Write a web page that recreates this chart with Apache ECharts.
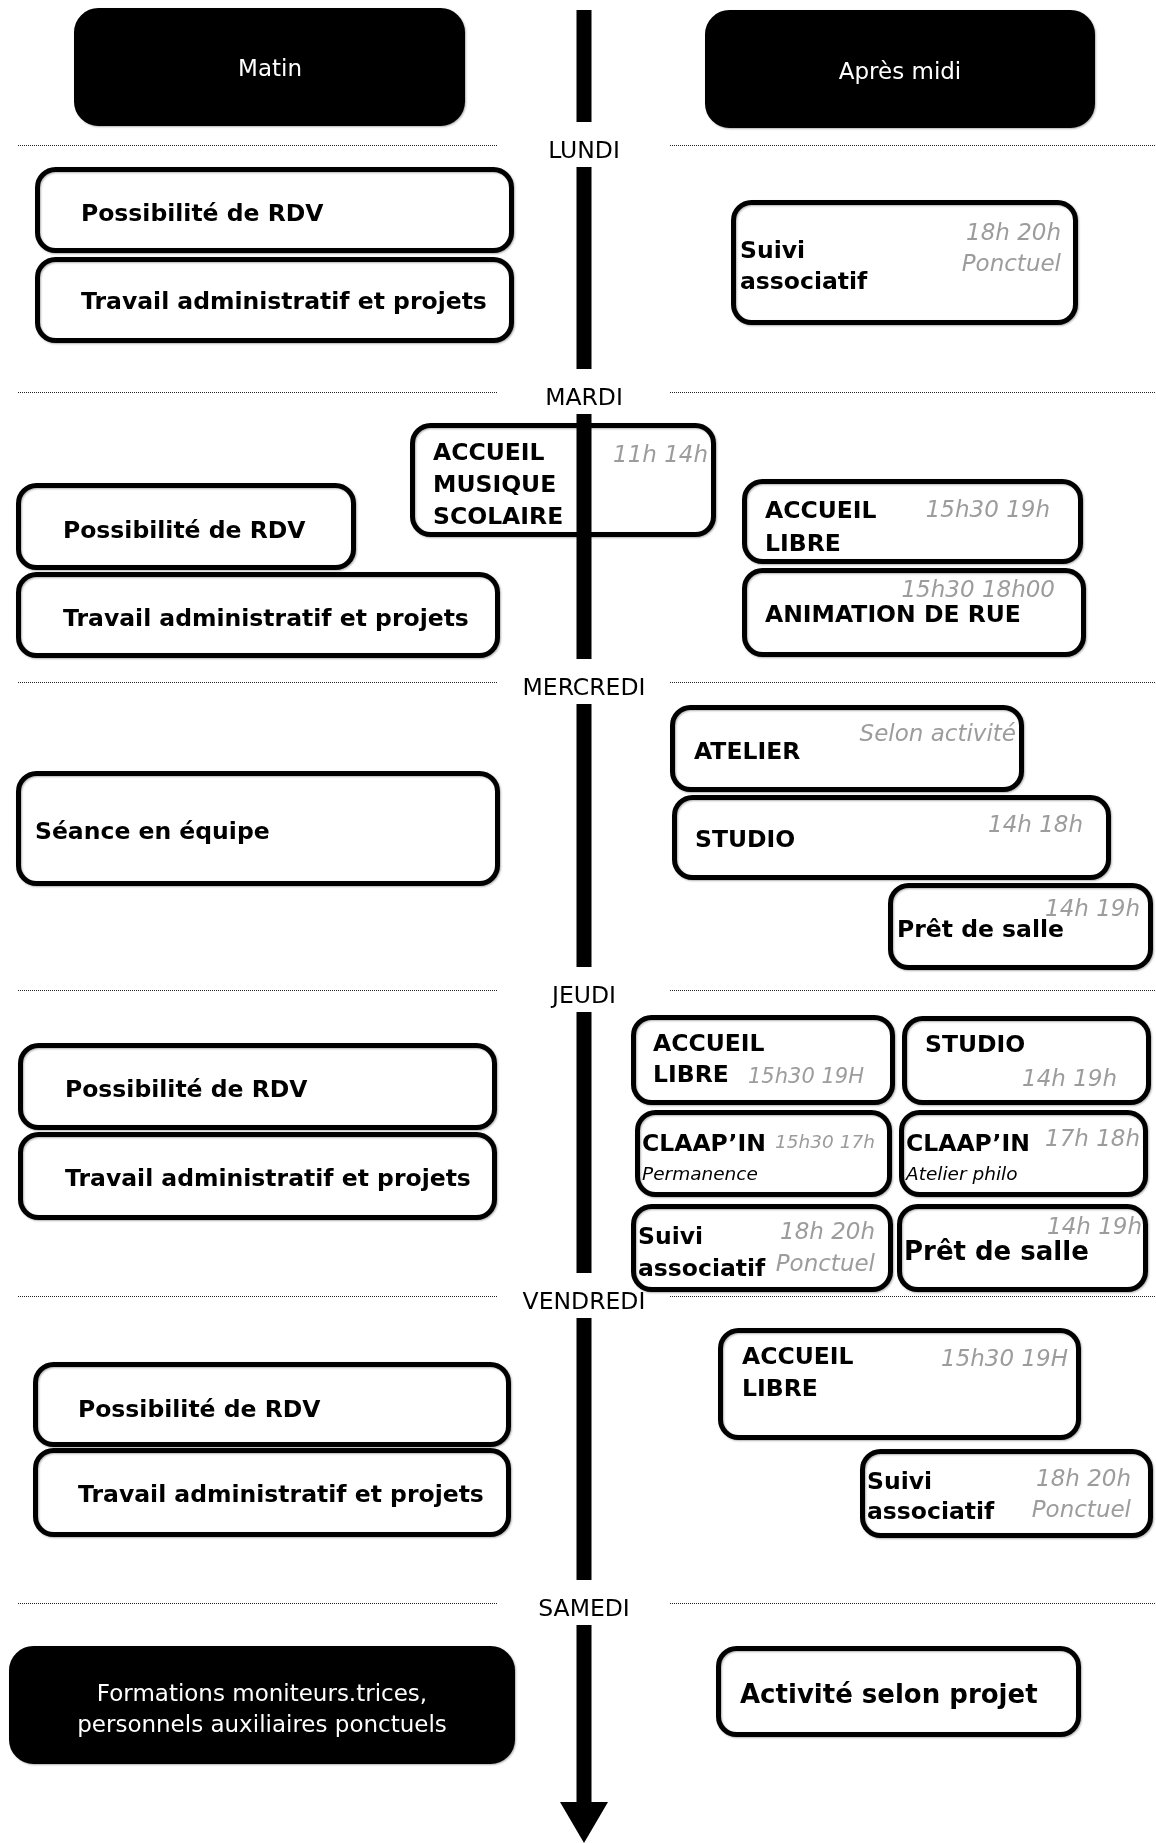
<!DOCTYPE html>
<html><head><meta charset="utf-8">
<script src="https://cdn.jsdelivr.net/npm/echarts@6/dist/echarts.min.js"></script>
<style>html,body{margin:0;padding:0;background:#fff}#c{width:1156px;height:1843px}</style>
</head><body><div id="c"></div>
<script>
// ---- data ----
const days = ['LUNDI','MARDI','MERCREDI','JEUDI','VENDREDI','SAMEDI'];
const dayY = [150,397,687,995,1301,1608];
const spineX = 584, spineTop = 10, arrowStart = 1802, arrowTip = 1843;

// boxes: [x0, y0, x1, y1, filled]
const headerBoxes = [[74,8,465,126,1],[705,10,1095,128,1]];
const mondayBoxes = [[35,167,514,253,0],[35,257,514,343,0],[731,200,1078,325,0]];
const tuesdayBoxes = [[16,483,356,570,0],[16,572,500,658,0],[742,479,1083,564,0],[742,568,1086,657,0],[410,423,716,537,0]];
const wednesdayBoxes = [[16,771,500,886,0],[670,705,1024,792,0],[672,795,1111,880,0],[888,883,1153,970,0]];
const thursdayBoxes = [[18,1043,497,1130,0],[18,1132,497,1220,0],[631,1015,895,1105,0],[902,1016,1151,1105,0],
  [635,1110,892,1197,0],[899,1110,1148,1197,0],[631,1204,893,1292,0],[897,1204,1148,1292,0]];
const fridayBoxes = [[33,1362,511,1447,0],[33,1448,511,1537,0],[718,1328,1081,1440,0],[860,1449,1153,1538,0]];
const saturdayBoxes = [[9,1646,515,1764,1],[716,1646,1081,1737,0]];

// labels: [x, y, text, kind, align]
const headerLabels = [[270,67,'Matin','h','center'],[900,70,'Après midi','h','center']];
const mondayLabels = [
  [81,212,'Possibilité de RDV','b','left'],[81,300,'Travail administratif et projets','b','left'],
  [740,249,'Suivi','b','left'],[740,280,'associatif','b','left'],
  [1061,231,'18h 20h','t','right'],[1061,262,'Ponctuel','t','right']];
const tuesdayLabels = [
  [433,451,'ACCUEIL','b','left'],[433,483,'MUSIQUE','b','left'],[433,515,'SCOLAIRE','b','left'],[708,453,'11h 14h','t','right'],
  [63,529,'Possibilité de RDV','b','left'],[63,617,'Travail administratif et projets','b','left'],
  [765,509,'ACCUEIL','b','left'],[765,542,'LIBRE','b','left'],[1050,508,'15h30 19h','t','right'],
  [765,613,'ANIMATION DE RUE','b','left'],[1055,588,'15h30 18h00','t','right']];
const wednesdayLabels = [
  [35,830,'Séance en équipe','b','left'],
  [694,750,'ATELIER','b','left'],[1016,732,'Selon activité','t','right'],
  [695,838,'STUDIO','b','left'],[1083,823,'14h 18h','t','right'],
  [897,928,'Prêt de salle','b','left'],[1140,907,'14h 19h','t','right']];
const thursdayLabels = [
  [65,1088,'Possibilité de RDV','b','left'],[65,1177,'Travail administratif et projets','b','left'],
  [653,1042,'ACCUEIL','b','left'],[653,1073,'LIBRE','b','left'],[748,1075,'15h30 19H','tm','left'],
  [925,1043,'STUDIO','b','left'],[1117,1077,'14h 19h','t','right'],
  [642,1142,'CLAAP’IN','b','left'],[642,1172,'Permanence','n','left'],[875,1140,'15h30 17h','ts','right'],
  [906,1142,'CLAAP’IN','b','left'],[906,1172,'Atelier philo','n','left'],[1140,1137,'17h 18h','t','right'],
  [638,1235,'Suivi','b','left'],[638,1267,'associatif','b','left'],[875,1230,'18h 20h','t','right'],[875,1262,'Ponctuel','t','right'],
  [904,1250,'Prêt de salle','big','left'],[1142,1225,'14h 19h','t','right']];
const fridayLabels = [
  [78,1408,'Possibilité de RDV','b','left'],[78,1493,'Travail administratif et projets','b','left'],
  [742,1355,'ACCUEIL','b','left'],[742,1387,'LIBRE','b','left'],[1068,1357,'15h30 19H','t','right'],
  [867,1480,'Suivi','b','left'],[867,1510,'associatif','b','left'],[1131,1477,'18h 20h','t','right'],[1131,1508,'Ponctuel','t','right']];
const saturdayLabels = [
  [262,1692,'Formations moniteurs.trices,','h','center'],[262,1723,'personnels auxiliaires ponctuels','h','center'],
  [740,1693,'Activité selon projet','big','left']];

// ---- styles ----
const FF = '"DejaVu Sans", Verdana, sans-serif';
const kinds = {
  b:   {font: 'bold 23.5px ' + FF, fill: '#000'},
  big: {font: 'bold 26px ' + FF, fill: '#000'},
  t:   {font: 'italic 23px ' + FF, fill: '#9c9c9c'},
  tm:  {font: 'italic 21px ' + FF, fill: '#9c9c9c'},
  ts:  {font: 'italic 18.5px ' + FF, fill: '#9c9c9c'},
  n:   {font: 'italic 18.5px ' + FF, fill: '#000'},
  h:   {font: '23px ' + FF, fill: '#fff'},
  d:   {font: '23.5px ' + FF, fill: '#000'}
};
const TEXT_SHIFT = 3;   // canvas "middle" sits a bit above visual glyph centre
const LW = 5, RADIUS = 18, SPINE_W = 15;

const boxes = [].concat(headerBoxes, mondayBoxes, tuesdayBoxes, wednesdayBoxes, thursdayBoxes, fridayBoxes, saturdayBoxes);
const labels = [].concat(headerLabels, mondayLabels, tuesdayLabels, wednesdayLabels, thursdayLabels, fridayLabels, saturdayLabels);

// spine segments derived from day positions
const spine = [];
let prev = spineTop;
dayY.forEach(function (y) { spine.push([prev, y - 28]); prev = y + 17; });
spine.push([prev, arrowStart]);

const chart = echarts.init(document.getElementById('c'), null, {renderer: 'canvas'});
chart.setOption({
  animation: false,
  grid: {left: 0, right: 0, top: 0, bottom: 0},
  xAxis: {type: 'value', min: 0, max: 1156, show: false},
  yAxis: {type: 'value', min: 0, max: 1843, inverse: true, show: false},
  series: [
    { // day separators
      type: 'custom', z: 1, clip: false,
      data: dayY.map(function (y, i) { return [spineX, y, i]; }),
      renderItem: function (params, api) {
        const p = api.coord([api.value(0), api.value(1)]);
        const l0 = api.coord([18, 0])[0], l1 = api.coord([498, 0])[0];
        const r0 = api.coord([670, 0])[0], r1 = api.coord([1155, 0])[0];
        const ly = Math.round(p[1] - 5) + 0.5;
        const ds = {stroke: '#222', lineWidth: 1, lineDash: [1, 1]};
        return {type: 'group', children: [
          {type: 'line', shape: {x1: l0, y1: ly, x2: l1, y2: ly}, style: ds},
          {type: 'line', shape: {x1: r0, y1: ly, x2: r1, y2: ly}, style: ds},
          {type: 'text', style: {x: p[0], y: p[1] + TEXT_SHIFT - 1, text: days[api.value(2)], font: kinds.d.font, fill: '#000',
            align: 'center', verticalAlign: 'middle', textAlign: 'center', textVerticalAlign: 'middle'}}
        ]};
      }
    },
    { // boxes
      type: 'custom', z: 2, clip: false,
      data: boxes,
      renderItem: function (params, api) {
        const a = api.coord([api.value(0), api.value(1)]);
        const b = api.coord([api.value(2), api.value(3)]);
        const filled = api.value(4) === 1;
        return {type: 'rect',
          shape: {x: a[0] + LW / 2, y: a[1] + LW / 2, width: b[0] - a[0] - LW, height: b[1] - a[1] - LW, r: filled ? 22 : RADIUS},
          style: {fill: filled ? '#000' : '#fff', stroke: '#000', lineWidth: LW,
            shadowColor: 'rgba(0,0,0,0.3)', shadowBlur: 2, shadowOffsetX: 1, shadowOffsetY: 1}};
      }
    },
    { // spine
      type: 'custom', z: 3, clip: false,
      data: spine.map(function (s, i) { return [spineX, s[0], s[1], i]; }),
      renderItem: function (params, api) {
        const a = api.coord([api.value(0), api.value(1)]);
        const b = api.coord([api.value(0), api.value(2)]);
        const children = [{type: 'rect', shape: {x: a[0] - SPINE_W / 2, y: a[1], width: SPINE_W, height: b[1] - a[1]}, style: {fill: '#000'}}];
        if (api.value(3) === spine.length - 1) {
          const t = api.coord([spineX, arrowTip]);
          children.push({type: 'polygon', shape: {points: [[b[0] - 24, b[1]], [b[0] + 24, b[1]], [t[0], t[1]]]}, style: {fill: '#000'}});
        }
        return {type: 'group', children: children};
      }
    },
    { // labels
      type: 'custom', z: 4, clip: false,
      data: labels.map(function (l, i) { return [l[0], l[1], i]; }),
      renderItem: function (params, api) {
        const l = labels[api.value(2)];
        const p = api.coord([api.value(0), api.value(1)]);
        const k = kinds[l[3]];
        return {type: 'text', style: {x: p[0], y: p[1] + TEXT_SHIFT, text: l[2], font: k.font, fill: k.fill,
          align: l[4], verticalAlign: 'middle', textAlign: l[4], textVerticalAlign: 'middle'}};
      }
    }
  ]
});
</script></body></html>
